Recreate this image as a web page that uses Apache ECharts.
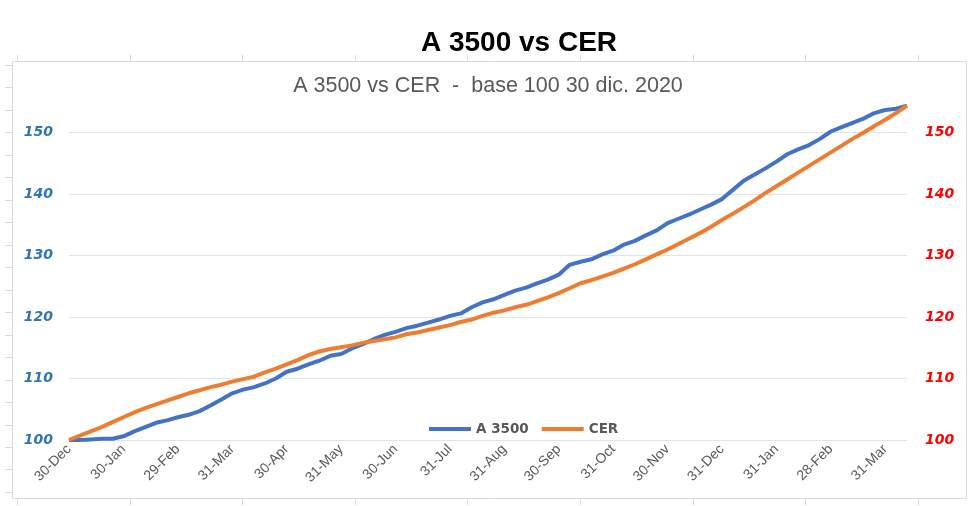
<!DOCTYPE html>
<html>
<head>
<meta charset="utf-8">
<script src="https://cdn.jsdelivr.net/npm/echarts@6/dist/echarts.min.js"></script>
<style>html,body{margin:0;padding:0;background:#fff;}#c{width:980px;height:506px;}</style>
</head>
<body>
<div id="c"></div>
<script>
const chartTitle = 'A 3500 vs CER';
const chartSubtitle = 'A 3500 vs CER  -  base 100 30 dic. 2020';
const seriesNames = ['A 3500', 'CER'];
const yTicks = [100, 110, 120, 130, 140, 150];

const categories = [
'30-Dec-23',
'06-Jan-24','12-Jan-24','18-Jan-24','24-Jan-24','30-Jan-24',
'06-Feb-24','12-Feb-24','18-Feb-24','24-Feb-24','29-Feb-24',
'06-Mar-24','12-Mar-24','18-Mar-24','24-Mar-24','31-Mar-24',
'06-Apr-24','12-Apr-24','18-Apr-24','24-Apr-24','30-Apr-24',
'06-May-24','12-May-24','18-May-24','24-May-24','31-May-24',
'06-Jun-24','12-Jun-24','18-Jun-24','24-Jun-24','30-Jun-24',
'06-Jul-24','12-Jul-24','18-Jul-24','24-Jul-24','31-Jul-24',
'06-Aug-24','12-Aug-24','18-Aug-24','24-Aug-24','31-Aug-24',
'06-Sep-24','12-Sep-24','18-Sep-24','24-Sep-24','30-Sep-24',
'06-Oct-24','12-Oct-24','18-Oct-24','24-Oct-24','31-Oct-24',
'06-Nov-24','12-Nov-24','18-Nov-24','24-Nov-24','30-Nov-24',
'06-Dec-24','12-Dec-24','18-Dec-24','24-Dec-24','31-Dec-24',
'06-Jan-25','12-Jan-25','18-Jan-25','24-Jan-25','31-Jan-25',
'06-Feb-25','12-Feb-25','18-Feb-25','24-Feb-25','28-Feb-25',
'06-Mar-25','12-Mar-25','18-Mar-25','24-Mar-25','31-Mar-25',
'06-Apr-25','12-Apr-25'
];

const a3500 = [
100.0, 100.0, 100.1, 100.2, 100.2, 100.6, 101.4, 102.1, 102.8, 103.2, 103.7, 104.1, 104.7, 105.6, 106.6, 107.6,
108.2, 108.6, 109.2, 110.0, 111.1, 111.6, 112.3, 112.9, 113.7, 114.0, 114.9, 115.6, 116.4, 117.1, 117.6,
118.2, 118.6, 119.1, 119.6, 120.2, 120.6, 121.6, 122.4, 122.9, 123.6, 124.3, 124.8, 125.5, 126.1, 126.9, 128.5,
129.0, 129.4, 130.2, 130.8, 131.8, 132.4, 133.3, 134.1, 135.3, 136.0, 136.7, 137.5, 138.3, 139.2, 140.7, 142.2,
143.2, 144.2, 145.3, 146.5, 147.3, 148.0, 149.0, 150.2, 150.9, 151.6, 152.3, 153.2, 153.7, 153.9, 154.4
];

const cer = [
100.0, 100.7, 101.4, 102.1, 102.9, 103.7, 104.5, 105.2, 105.8, 106.4, 107.0, 107.6, 108.1, 108.6, 109.0, 109.5,
109.9, 110.3, 111.0, 111.6, 112.3, 113.0, 113.8, 114.4, 114.8, 115.1, 115.4, 115.8, 116.1, 116.4, 116.7,
117.2, 117.5, 117.9, 118.3, 118.7, 119.2, 119.6, 120.2, 120.7, 121.1, 121.6, 122.0, 122.6, 123.2, 123.9, 124.7,
125.5, 126.0, 126.6, 127.2, 127.9, 128.6, 129.4, 130.2, 131.0, 131.9, 132.8, 133.7, 134.7, 135.8, 136.8, 137.9,
139.0, 140.2, 141.3, 142.4, 143.5, 144.6, 145.7, 146.8, 147.9, 149.0, 150.0, 151.1, 152.1, 153.2, 154.4
];

const chart = echarts.init(document.getElementById('c'), null, {renderer: 'canvas'});

// decorative outer frame (from the enclosing sheet chart)
const frame = [];
frame.push({type: 'rect', shape: {x: 12.5, y: 61.5, width: 954, height: 437}, style: {fill: 'none', stroke: '#d9d9d9', lineWidth: 1}, silent: true});
for (let k = 0; k < 20; k++) {
  const y = Math.round(65 + 22.47 * k) + 0.5;
  frame.push({type: 'line', shape: {x1: 5, y1: y, x2: 12, y2: y}, style: {stroke: '#d9d9d9', lineWidth: 1}, silent: true});
}
for (let k = 0; k < 9; k++) {
  const x = Math.round(17 + 112.6 * k) + 0.5;
  frame.push({type: 'line', shape: {x1: x, y1: 55, x2: x, y2: 61}, style: {stroke: '#d9d9d9', lineWidth: 1}, silent: true});
  frame.push({type: 'line', shape: {x1: x, y1: 499, x2: x, y2: 505}, style: {stroke: '#d9d9d9', lineWidth: 1}, silent: true});
}
frame.push({type: 'text', x: 519, y: 43, style: {text: chartTitle, fill: '#000', font: 'bold 28px "Liberation Sans", Arial, sans-serif', align: 'center', verticalAlign: 'middle'}, silent: true});
frame.push({type: 'text', x: 488, y: 86, style: {text: chartSubtitle, fill: '#595959', font: '21.5px "Liberation Sans", Arial, sans-serif', align: 'center', verticalAlign: 'middle'}, silent: true});

const yLabelBase = {fontFamily: '"DejaVu Sans", sans-serif', fontWeight: 'bold', fontStyle: 'italic', fontSize: 14};

chart.setOption({
  animation: false,
  backgroundColor: '#ffffff',
  graphic: frame,
  color: ['#4472c4', '#ed7d31'],
  legend: {
    data: seriesNames,
    left: 424,
    top: 417,
    icon: 'rect',
    itemWidth: 42,
    itemHeight: 4,
    itemGap: 13,
    textStyle: {color: '#595959', fontFamily: '"DejaVu Sans", sans-serif', fontWeight: 'bold', fontSize: 13.5}
  },
  grid: {left: 69, right: 73, top: 102, bottom: 66, containLabel: false},
  xAxis: {
    type: 'category',
    data: categories,
    boundaryGap: false,
    axisLine: {show: false},
    axisTick: {show: false},
    axisLabel: {
      interval: 4,
      rotate: 45,
      margin: 7,
      color: '#595959',
      fontFamily: '"Liberation Sans", Arial, sans-serif',
      fontSize: 14,
      formatter: v => v.slice(0, v.lastIndexOf('-'))
    },
    splitLine: {show: false}
  },
  yAxis: [
    {
      type: 'value', min: yTicks[0], max: 155, interval: 10,
      axisLine: {show: false}, axisTick: {show: false},
      axisLabel: Object.assign({color: '#2e75b6', margin: 16, showMaxLabel: false}, yLabelBase),
      splitLine: {show: true, showMaxLine: false, lineStyle: {color: '#e3e3e3', width: 1}}
    },
    {
      type: 'value', min: yTicks[0], max: 155, interval: 10, position: 'right',
      axisLine: {show: false}, axisTick: {show: false},
      axisLabel: Object.assign({color: '#ff0000', margin: 18, showMaxLabel: false}, yLabelBase),
      splitLine: {show: false}
    }
  ],
  series: [
    {name: seriesNames[0], type: 'line', data: a3500, yAxisIndex: 0, showSymbol: false, symbol: 'none', lineStyle: {width: 4, color: '#4472c4'}, itemStyle: {color: '#4472c4'}},
    {name: seriesNames[1], type: 'line', data: cer, yAxisIndex: 1, showSymbol: false, symbol: 'none', lineStyle: {width: 4, color: '#ed7d31'}, itemStyle: {color: '#ed7d31'}}
  ]
});
</script>
</body>
</html>
